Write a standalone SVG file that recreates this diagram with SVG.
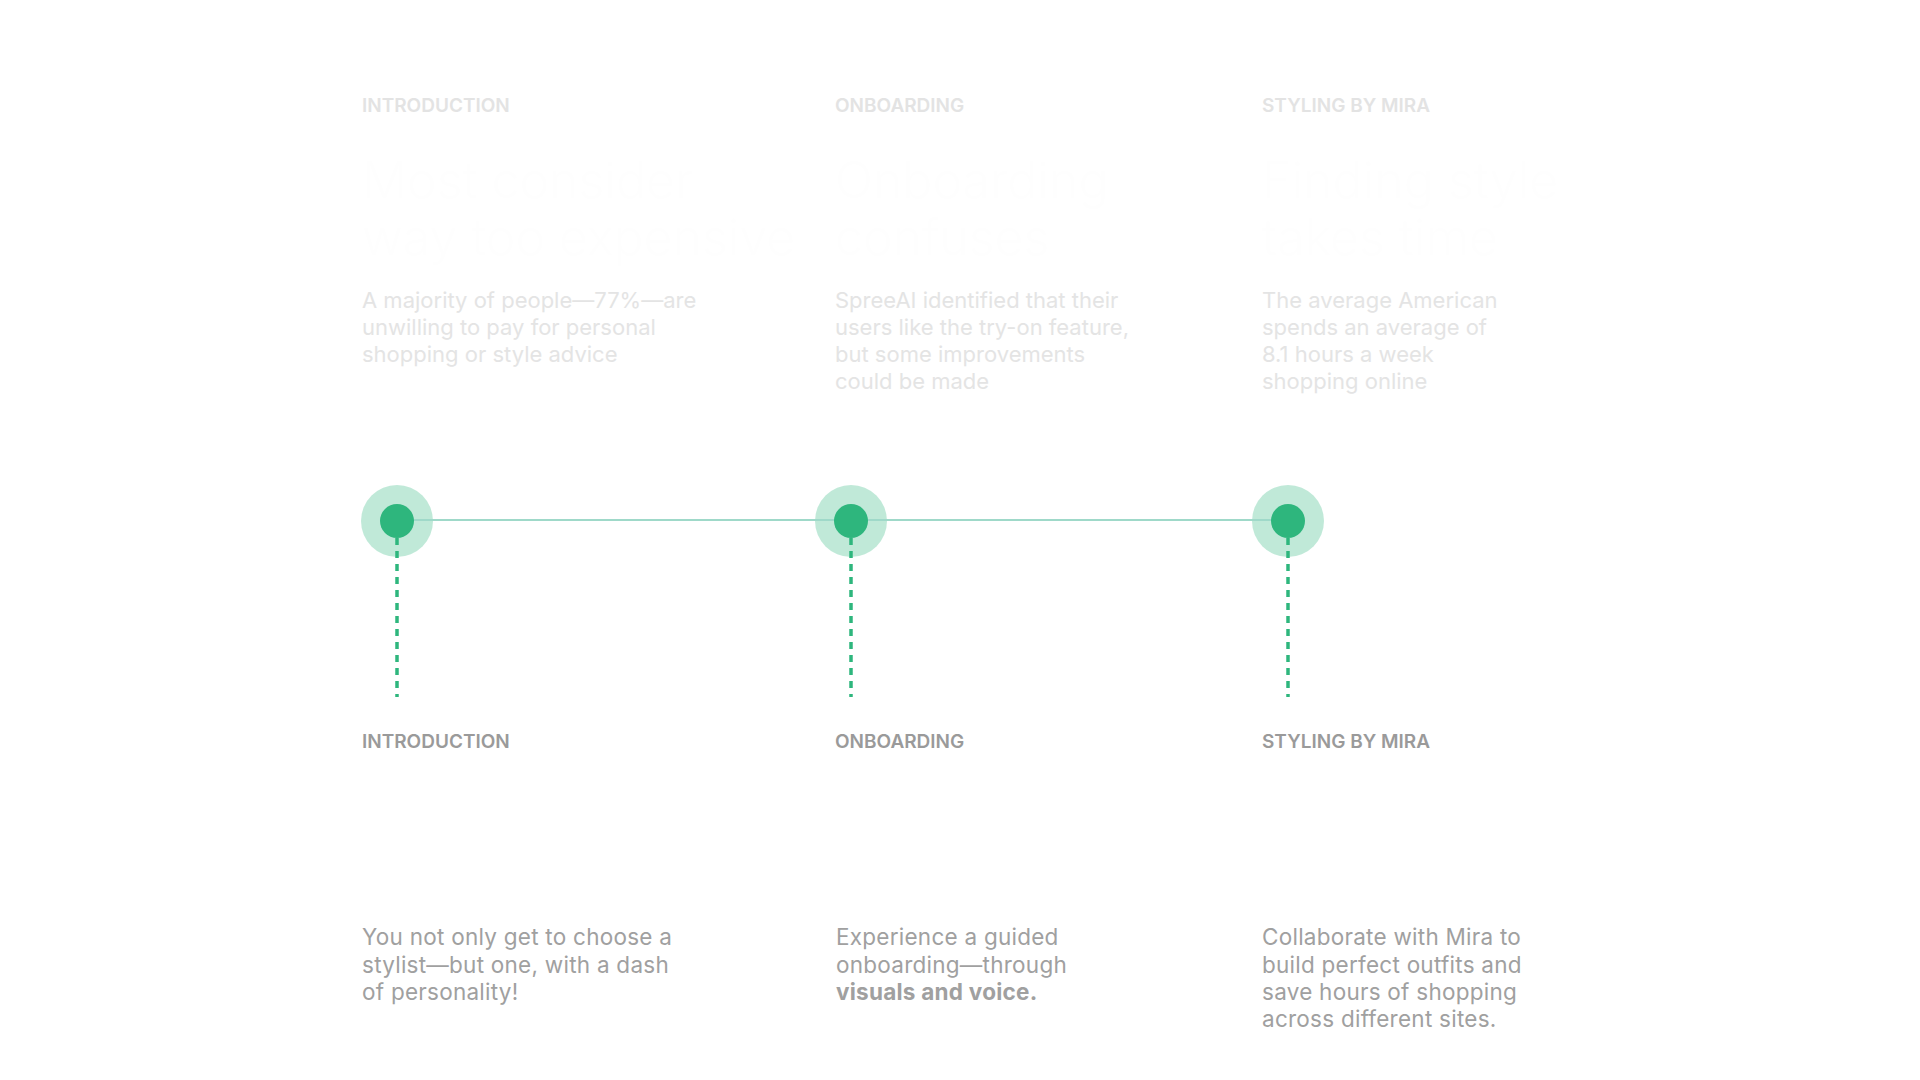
<svg xmlns="http://www.w3.org/2000/svg" width="1920" height="1080" viewBox="0 0 1920 1080">
  <style>
    text { font-family: Inter, "Open Sans", "Liberation Sans", sans-serif; }
    .lbl-top { font-size: 19px; font-weight: 600; fill: #e3e3e3; }
    .lbl-bot { font-size: 19px; font-weight: 600; fill: #9a9a9a; }
    .head { font-size: 50px; font-weight: 300; fill: #fefefe; }
    .body-top { font-size: 22px; font-weight: 400; fill: #e4e4e4; }
    .body-bot { font-size: 22.5px; font-weight: 400; fill: #a0a0a0; letter-spacing: 0.25px; }
    .b { font-weight: 700; }
    .halo { fill: #2eb67d; fill-opacity: 0.3; }
    .dot { fill: #2eb67d; }
    .axis { stroke: #9fd9c9; stroke-width: 2; fill: none; }
    .drop { stroke: #2eb67d; stroke-width: 3.5; stroke-dasharray: 7 6; fill: none; }
  </style>
  <rect width="1920" height="1080" fill="#ffffff"/>

  <g id="halos">
    <circle class="halo" cx="397" cy="521" r="36"/>
    <circle class="halo" cx="851" cy="521" r="36"/>
    <circle class="halo" cx="1288" cy="521" r="36"/>
  </g>

  <g id="connectors">
    <line class="axis" x1="397" y1="520" x2="1288" y2="520"/>
    <line class="drop" x1="397" y1="538" x2="397" y2="697"/>
    <line class="drop" x1="851" y1="538" x2="851" y2="697"/>
    <line class="drop" x1="1288" y1="538" x2="1288" y2="697"/>
  </g>

  <g id="node-introduction">
    <text class="lbl-top" x="362" y="112">INTRODUCTION</text>
    <text class="head" x="362" y="198">Most consider</text>
    <text class="head" x="362" y="255">way too expensive</text>
    <text class="body-top" x="362" y="308">A majority of people—77%—are</text>
    <text class="body-top" x="362" y="335">unwilling to pay for personal</text>
    <text class="body-top" x="362" y="362">shopping or style advice</text>
    <circle class="dot" cx="397" cy="521" r="17"/>
    <text class="lbl-bot" x="362" y="748">INTRODUCTION</text>
    <text class="body-bot" x="362" y="945">You not only get to choose a</text>
    <text class="body-bot" x="362" y="973">stylist—but one, with a dash</text>
    <text class="body-bot" x="362" y="1000">of personality!</text>
  </g>

  <g id="node-onboarding">
    <text class="lbl-top" x="835" y="112">ONBOARDING</text>
    <text class="head" x="835" y="198">Onboarding</text>
    <text class="head" x="835" y="255">confuses</text>
    <text class="body-top" x="835" y="308">SpreeAI identified that their</text>
    <text class="body-top" x="835" y="335">users like the try-on feature,</text>
    <text class="body-top" x="835" y="362">but some improvements</text>
    <text class="body-top" x="835" y="389">could be made</text>
    <circle class="dot" cx="851" cy="521" r="17"/>
    <text class="lbl-bot" x="835" y="748">ONBOARDING</text>
    <text class="body-bot" x="836" y="945">Experience a guided</text>
    <text class="body-bot" x="836" y="973">onboarding—through</text>
    <text class="body-bot b" x="836" y="1000">visuals and voice.</text>
  </g>

  <g id="node-styling">
    <text class="lbl-top" x="1262" y="112">STYLING BY MIRA</text>
    <text class="head" x="1262" y="198">Finding style</text>
    <text class="head" x="1262" y="255">takes time</text>
    <text class="body-top" x="1262" y="308">The average American</text>
    <text class="body-top" x="1262" y="335">spends an average of</text>
    <text class="body-top" x="1262" y="362">8.1 hours a week</text>
    <text class="body-top" x="1262" y="389">shopping online</text>
    <circle class="dot" cx="1288" cy="521" r="17"/>
    <text class="lbl-bot" x="1262" y="748">STYLING BY MIRA</text>
    <text class="body-bot" x="1262" y="945">Collaborate with Mira to</text>
    <text class="body-bot" x="1262" y="973">build perfect outfits and</text>
    <text class="body-bot" x="1262" y="1000">save hours of shopping</text>
    <text class="body-bot" x="1262" y="1027">across different sites.</text>
  </g>
</svg>
